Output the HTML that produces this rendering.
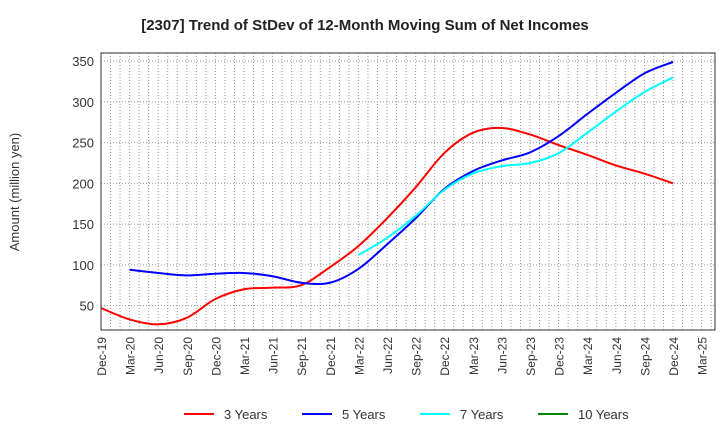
<!DOCTYPE html>
<html><head><meta charset="utf-8"><style>
body{margin:0;background:#fff;font-family:"Liberation Sans",Arial,sans-serif}
</style></head><body>
<svg width="720" height="440" xmlns="http://www.w3.org/2000/svg" id="chart">
<text x="365" y="30" text-anchor="middle" font-size="15" font-weight="bold" fill="#222">[2307]  Trend of StDev of 12-Month Moving Sum of Net Incomes</text>
<text transform="translate(19,192) rotate(-90)" text-anchor="middle" font-size="13" fill="#333">Amount (million yen)</text>
<g id="grid"></g><g id="series"></g><g id="axes"></g>
<g font-size="13" fill="#333">
<line x1="184" y1="414" x2="214" y2="414" stroke="#f00" stroke-width="2"/><text x="224" y="419">3 Years</text>
<line x1="302" y1="414" x2="332" y2="414" stroke="#00f" stroke-width="2"/><text x="342" y="419">5 Years</text>
<line x1="420" y1="414" x2="450" y2="414" stroke="#0ff" stroke-width="2"/><text x="460" y="419">7 Years</text>
<line x1="538" y1="414" x2="568" y2="414" stroke="#080" stroke-width="2"/><text x="578" y="419">10 Years</text>
</g>
</svg>
<script>
const xLabels=["Dec-19","Mar-20","Jun-20","Sep-20","Dec-20","Mar-21","Jun-21","Sep-21","Dec-21","Mar-22","Jun-22","Sep-22","Dec-22","Mar-23","Jun-23","Sep-23","Dec-23","Mar-24","Jun-24","Sep-24","Dec-24","Mar-25"];
const yTicks=[50,100,150,200,250,300,350];
const s3=[47,33,27,35,58,70,72,75,97,123,157,195,237,262,268,260,247,235,222,212,200];
const s5=[null,94,90,87,89,90,86,78,78,95,125,157,193,215,228,238,258,285,311,335,349];
const s7=[null,null,null,null,null,null,null,null,null,112,133,160,192,212,221,225,237,262,288,312,330];
const s10=[];
const L=101,R=715,T=53,B=330,YMIN=20,YMAX=360,STEP=28.6;
const NS="http://www.w3.org/2000/svg";
const xs=i=>L+STEP*i;
const ys=v=>B-(B-T)*(v-YMIN)/(YMAX-YMIN);
function mk(t,a,p){const e=document.createElementNS(NS,t);for(const k in a)e.setAttribute(k,a[k]);p.appendChild(e);return e;}
const grid=document.getElementById('grid'),axes=document.getElementById('axes'),ser=document.getElementById('series');
for(let m=1;L+STEP*m/3<R-1;m++){const x=L+STEP*m/3;const g=mk('line',{x1:x,x2:x,y1:T,y2:B,stroke:'#999','stroke-dasharray':'1,2','stroke-width':1},grid);

}
yTicks.forEach(v=>{const g=mk('line',{x1:L,x2:R,y1:ys(v),y2:ys(v),stroke:'#999','stroke-dasharray':'1,2'},grid);


const t=mk('text',{x:L-7,y:ys(v)+5,'text-anchor':'end','font-size':13,fill:'#333'},axes);t.textContent=v;

});
const fr=mk('rect',{x:L,y:T,width:R-L,height:B-T,fill:'none',stroke:'#333'},axes);


xLabels.forEach((l,i)=>{const t=mk('text',{transform:`translate(${xs(i)+5},${B+7}) rotate(-90)`,'text-anchor':'end','font-size':12,fill:'#333'},axes);t.textContent=l;

});
function path(arr,color,name){const pts=[];arr.forEach((v,i)=>{if(v!=null)pts.push([xs(i),ys(v)]);});if(pts.length<2)return;
let d=`M${pts[0][0]},${pts[0][1]}`;
for(let i=0;i<pts.length-1;i++){const p0=pts[i-1]||pts[i],p1=pts[i],p2=pts[i+1],p3=pts[i+2]||p2;
d+=` C${p1[0]+(p2[0]-p0[0])/6},${p1[1]+(p2[1]-p0[1])/6} ${p2[0]-(p3[0]-p1[0])/6},${p2[1]-(p3[1]-p1[1])/6} ${p2[0]},${p2[1]}`;}
const p=mk('path',{d,fill:'none',stroke:color,'stroke-width':2},ser);

}
path(s3,'#f00','line-3-years');path(s5,'#00f','line-5-years');path(s7,'#0ff','line-7-years');path(s10,'#080','line-10-years');
</script>
</body></html>
